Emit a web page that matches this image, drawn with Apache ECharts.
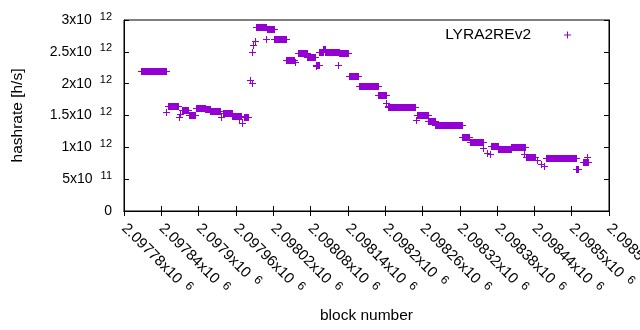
<!DOCTYPE html>
<html>
<head>
<meta charset="utf-8">
<script src="https://cdn.jsdelivr.net/npm/echarts@6/dist/echarts.min.js"></script>
<style>
  html, body { margin: 0; padding: 0; background: #fff; }
  #chart { width: 640px; height: 330px; }
</style>
</head>
<body>
<div id="chart"></div>
<script>
// runs of blocks with the same hashrate: first block, last block, value [h/s]
const segStart = [
  2097807, 2097848, 2097851, 2097868, 2097870, 2097873, 2097885, 2097895, 2097910, 2097918,
  2097936, 2097939, 2097954, 2097965, 2097970, 2097973, 2097983, 2097986, 2097986, 2097988,
  2097990, 2097992, 2098009, 2098010, 2098022, 2098040, 2098055, 2098060, 2098074, 2098088,
  2098089, 2098094, 2098100, 2098103, 2098124, 2098126, 2098142, 2098158, 2098189, 2098202,
  2098204, 2098205, 2098250, 2098252, 2098269, 2098280, 2098324, 2098336, 2098357, 2098364,
  2098369, 2098371, 2098382, 2098402, 2098423, 2098426, 2098444, 2098450, 2098455, 2098459,
  2098507, 2098518, 2098524
];
const segEnd = [
  2097848, 2097848, 2097867, 2097868, 2097870, 2097883, 2097894, 2097910, 2097918, 2097935,
  2097936, 2097953, 2097968, 2097965, 2097970, 2097980, 2097983, 2097986, 2097986, 2097988,
  2097990, 2098008, 2098009, 2098021, 2098040, 2098053, 2098055, 2098074, 2098087, 2098093,
  2098089, 2098100, 2098103, 2098125, 2098124, 2098141, 2098157, 2098189, 2098201, 2098202,
  2098204, 2098248, 2098250, 2098269, 2098280, 2098323, 2098335, 2098357, 2098357, 2098364,
  2098369, 2098382, 2098402, 2098425, 2098423, 2098441, 2098444, 2098450, 2098455, 2098507,
  2098510, 2098526, 2098524
];
const segValue = [
  2.194e12, 1.560e12, 1.645e12, 1.476e12, 1.524e12, 1.579e12, 1.508e12, 1.618e12, 1.597e12, 1.566e12,
  1.472e12, 1.535e12, 1.487e12, 1.440e12, 1.387e12, 1.472e12, 2.065e12, 2.010e12, 2.497e12, 2.612e12,
  2.675e12, 2.885e12, 2.697e12, 2.854e12, 2.697e12, 2.367e12, 2.345e12, 2.482e12, 2.414e12, 2.298e12,
  2.273e12, 2.497e12, 2.549e12, 2.493e12, 2.288e12, 2.477e12, 2.116e12, 1.959e12, 1.817e12, 1.692e12,
  1.649e12, 1.629e12, 1.429e12, 1.508e12, 1.409e12, 1.346e12, 1.158e12, 1.079e12, 0.985e12, 0.916e12,
  0.895e12, 1.021e12, 0.969e12, 1.005e12, 0.895e12, 0.843e12, 0.801e12, 0.738e12, 0.707e12, 0.828e12,
  0.655e12, 0.770e12, 0.848e12
];

const seriesName = 'LYRA2REv2';
const purple = '#9400d3';
const font = 'Liberation Sans, Arial, sans-serif';

const data = segStart.map((s, i) => [s, segEnd[i], segValue[i]]);

// "2.5x10 12" style labels
function sciLabel(v) {
  if (v === 0) return '{a|0}';
  const e = Math.floor(Math.log10(v) + 1e-9);
  const m = parseFloat((v / Math.pow(10, e)).toFixed(5));
  return '{a|' + m + 'x10}{s|' + e + '}';
}

const richY = {
  a: { fontSize: 14, fontFamily: font, color: '#000' },
  s: { fontSize: 11, fontFamily: font, color: '#000', padding: [0, 0, 7, 8] }
};
const richX = {
  a: { fontSize: 15, fontFamily: font, color: '#000' },
  s: { fontSize: 12, fontFamily: font, color: '#000', padding: [0, 0, 7, 7] }
};

const chart = echarts.init(document.getElementById('chart'), null, { renderer: 'canvas' });

chart.setOption({
  animation: false,
  grid: {
    left: 124, right: 31, top: 20, bottom: 119,
    containLabel: false,
    outerBoundsMode: 'none',
    show: true, borderColor: '#000', borderWidth: 1
  },
  legend: {
    right: 64,
    top: 22,
    align: 'right',
    selectedMode: false,
    itemWidth: 7,
    itemHeight: 7,
    data: [{ name: seriesName, icon: 'path://M3,0h1v3h3v1h-3v3h-1v-3h-3v-1h3z' }],
    textStyle: { fontSize: 15.5, fontFamily: font, color: '#000', padding: [0, 28, 0, 0] }
  },
  xAxis: [{
    type: 'value',
    min: 2097780,
    max: 2098560,
    interval: 60,
    name: 'block number',
    nameLocation: 'middle',
    nameGap: 97,
    nameTextStyle: { fontSize: 15.5, fontFamily: font, color: '#000' },
    axisLine: { show: true, lineStyle: { color: '#000' } },
    axisTick: { show: true, inside: true, length: 5, lineStyle: { color: '#000' } },
    splitLine: { show: false },
    axisLabel: {
      rotate: -45,
      margin: 15,
      formatter: sciLabel,
      rich: richX
    }
  }, {
    type: 'value',
    position: 'top',
    min: 2097780,
    max: 2098560,
    interval: 60,
    axisLine: { show: true, lineStyle: { color: '#000' } },
    axisTick: { show: true, inside: true, length: 5, lineStyle: { color: '#000' } },
    axisLabel: { show: false },
    splitLine: { show: false }
  }],
  yAxis: [{
    type: 'value',
    min: 0,
    max: 3e12,
    interval: 5e11,
    name: 'hashrate [h/s]',
    nameLocation: 'middle',
    nameGap: 98,
    nameTextStyle: { fontSize: 15.5, fontFamily: font, color: '#000' },
    axisLine: { show: true, lineStyle: { color: '#000' } },
    axisTick: { show: true, inside: true, length: 5, lineStyle: { color: '#000' } },
    splitLine: { show: false },
    axisLabel: {
      margin: 12,
      formatter: sciLabel,
      rich: richY
    }
  }, {
    type: 'value',
    position: 'right',
    min: 0,
    max: 3e12,
    interval: 5e11,
    axisLine: { show: true, lineStyle: { color: '#000' } },
    axisTick: { show: true, inside: true, length: 5, lineStyle: { color: '#000' } },
    axisLabel: { show: false },
    splitLine: { show: false }
  }],
  series: [{
    name: seriesName,
    type: 'custom',
    itemStyle: { color: purple },
    encode: { x: [0, 1], y: 2 },
    renderItem: function (params, api) {
      const p0 = api.coord([api.value(0), api.value(2)]);
      const p1 = api.coord([api.value(1), api.value(2)]);
      const x0 = Math.round(p0[0]);
      const x1 = Math.round(p1[0]);
      const y = Math.round(p0[1]);
      // overlapping '+' marks: solid block from the vertical strokes, thin line from the arms
      return {
        type: 'group',
        children: [
          { type: 'rect', shape: { x: x0, y: y - 3, width: x1 - x0 + 1, height: 7 }, style: { fill: purple } },
          { type: 'rect', shape: { x: x0 - 3, y: y, width: x1 - x0 + 7, height: 1 }, style: { fill: purple } }
        ]
      };
    },
    data: data
  }]
});
</script>
</body>
</html>
